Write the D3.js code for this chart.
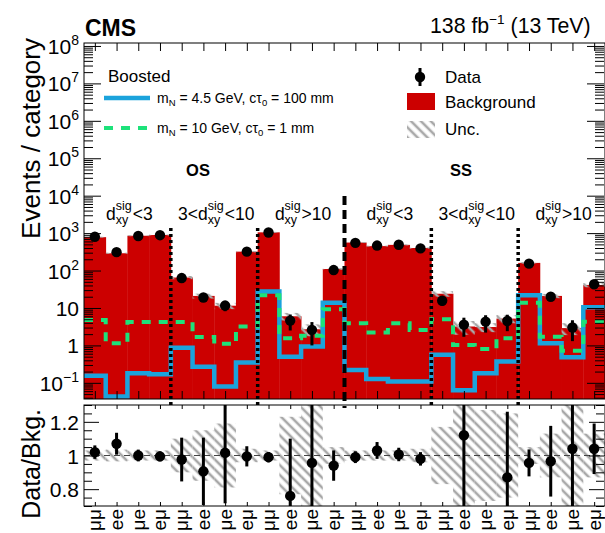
<!DOCTYPE html>
<html>
<head>
<meta charset="utf-8">
<script src="https://cdn.jsdelivr.net/npm/d3@7"></script>
<style>
  body { margin: 0; background: #fff; }
  svg { display: block; font-family: "Liberation Sans", Arial, sans-serif; }
</style>
</head>
<body>
<svg id="chart" width="605" height="533"></svg>
<script>
// channel label of each of the 24 categories
const binLabels = ["μμ","ee","μe","eμ","μμ","ee","μe","eμ","μμ","ee","μe","eμ",
                   "μμ","ee","μe","eμ","μμ","ee","μe","eμ","μμ","ee","μe","eμ"];
// predicted background per category
const background = [780, 290, 850, 890, 65, 21, 11.5, 320, 1050, 6, 2.7, 110,
                    560, 450, 485, 400, 24, 3.2, 3.1, 5.2, 160, 21, 2.9, 41];
// relative background uncertainty
const bkgUnc = [0.03, 0.035, 0.03, 0.03, 0.1, 0.15, 0.19, 0.04, 0.03, 0.23, 0.35, 0.05,
                0.03, 0.03, 0.03, 0.04, 0.17, 0.4, 0.27, 0.25, 0.05, 0.13, 0.35, 0.13];
// observed events
const observed = [800, 310, 840, 880, 63, 19, 11.6, 320, 1040, 4.6, 2.6, 103,
                  550, 465, 490, 390, 15.6, 3.6, 4.3, 4.5, 153, 20, 3.0, 43];
const observedErr = [28, 18, 29, 30, 8, 4.4, 3.4, 18, 32, 2.1, 1.6, 10,
                     23, 22, 22, 20, 4, 1.9, 2.1, 2.1, 12, 4.5, 1.7, 6.6];
// data / background (null = outside the ratio range)
const ratio = [1.02, 1.07, 1.0, 0.995, 0.976, 0.906, 1.016, 0.995, 0.99, 0.76, 0.956, 0.94,
               0.99, 1.03, 1.006, 0.98, null, 1.12, null, 0.87, 0.956, 0.966, 1.04, 1.04];
const ratioErr = [0.04, 0.065, 0.035, 0.03, 0.13, 0.2, 0.3, 0.06, 0.03, 0.34, 0.5, 0.09,
                  0.035, 0.05, 0.04, 0.04, null, 0.6, null, 0.39, 0.08, 0.21, 0.5, 0.15];
// signal m_N = 4.5 GeV, ctau = 100 mm
const signalA = [0.155, 0.043, 0.18, 0.17, 0.87, 0.27, 0.08, 0.35, 27.5, 0.5, 0.93, 13.8,
                 0.22, 0.126, 0.108, 0.108, 0.56, 0.063, 0.18, 0.37, 22, 1.15, 0.48, 10.5];
// signal m_N = 10 GeV, ctau = 1 mm
const signalB = [4.8, 1.15, 4.2, 4.2, 4.2, 1.67, 1.1, 3.2, 22, 1.55, 1.8, 9.3,
                 3.9, 2.2, 3.9, 2.6, 5, 1.03, 0.8, 1.55, 13.8, 1.7, 0.72, 4.3];
const logTicks = [0.1, 1, 10, 100, 1e3, 1e4, 1e5, 1e6, 1e7, 1e8];
const logTickLabels = [["10","−1"], ["1",""], ["10",""], ["10","2"], ["10","3"], ["10","4"],
                       ["10","5"], ["10","6"], ["10","7"], ["10","8"]];
const ratioTicks = [0.8, 1, 1.2];
const ratioTickLabels = ["0.8", "1", "1.2"];
const groupLabels = [["", "<3"], ["3<", "<10"], ["", ">10"], ["", "<3"], ["3<", "<10"], ["", ">10"]];

const X0 = 84, X1 = 605, MT = 43, MB = 399, RT = 405, RB = 506;
const RED = "#cc0000", BLUE = "#1ba3dc", GREEN = "#1de27a";

const svg = d3.select("#chart");
const x = d3.scaleLinear().domain([0, 24]).range([X0, X1]);
const y = d3.scaleLog().domain([0.037, 1.2e8]).range([MB, MT]);
const yr = d3.scaleLinear().domain([0.7, 1.3]).range([RB, RT]);
const bw = x(1) - x(0);

const defs = svg.append("defs");
defs.append("clipPath").attr("id", "clipMain").append("rect")
  .attr("x", X0).attr("y", MT).attr("width", X1 - X0).attr("height", MB - MT);
defs.append("clipPath").attr("id", "clipRatio").append("rect")
  .attr("x", X0).attr("y", RT).attr("width", X1 - X0).attr("height", RB - RT);
const pat = defs.append("pattern").attr("id", "hatch").attr("patternUnits", "userSpaceOnUse")
  .attr("width", 7).attr("height", 7).attr("patternTransform", "rotate(-45)");
pat.append("line").attr("x1", 2).attr("x2", 2).attr("y1", 0).attr("y2", 7)
  .attr("stroke", "#a8a8a8").attr("stroke-width", 2.6);

// ---------------- main panel ----------------
const gm = svg.append("g").attr("clip-path", "url(#clipMain)");
gm.selectAll("rect.bkg").data(background).join("rect")
  .attr("x", (d, i) => x(i)).attr("width", bw + 0.4)
  .attr("y", d => y(d)).attr("height", d => MB - y(d))
  .attr("fill", RED);
gm.selectAll("rect.unc").data(background).join("rect")
  .attr("x", (d, i) => x(i)).attr("width", bw)
  .attr("y", (d, i) => y(d * (1 + bkgUnc[i])))
  .attr("height", (d, i) => y(d * Math.max(1 - bkgUnc[i], 0.01)) - y(d * (1 + bkgUnc[i])))
  .attr("fill", "url(#hatch)");

const step = vals => d3.line().x(d => x(d[0])).y(d => y(d[1])).curve(d3.curveStepAfter)(
  vals.map((v, i) => [i, v]).concat([[24, vals[vals.length - 1]]]));
gm.append("path").attr("d", step(signalA)).attr("fill", "none")
  .attr("stroke", BLUE).attr("stroke-width", 4.5);
gm.append("path").attr("d", step(signalB)).attr("fill", "none")
  .attr("stroke", GREEN).attr("stroke-width", 4).attr("stroke-dasharray", "9,8");

// category separators
[4, 8, 16, 20].forEach(b => {
  svg.append("line").attr("x1", x(b)).attr("x2", x(b)).attr("y1", 228).attr("y2", 405)
    .attr("stroke", "#000").attr("stroke-width", 3.5).attr("stroke-dasharray", "3,3");
});
svg.append("line").attr("x1", x(12)).attr("x2", x(12)).attr("y1", 196).attr("y2", 408)
  .attr("stroke", "#000").attr("stroke-width", 4).attr("stroke-dasharray", "9,5");

// data points
const gd = svg.append("g").attr("clip-path", "url(#clipMain)");
observed.forEach((v, i) => {
  const cx = x(i + 0.5);
  gd.append("line").attr("x1", cx).attr("x2", cx)
    .attr("y1", y(v + observedErr[i])).attr("y2", y(Math.max(v - observedErr[i], 0.01)))
    .attr("stroke", "#000").attr("stroke-width", 3);
  gd.append("circle").attr("cx", cx).attr("cy", y(v)).attr("r", 5.2).attr("fill", "#000");
});

// axes of the main panel
function strip(g) { g.select(".domain").remove(); g.selectAll("line").attr("stroke", "#000"); }
const minorLog = [];
for (let e = -2; e < 8; e++) for (let m = 2; m <= 9; m++) {
  const v = m * 10 ** e;
  if (v > 0.037 && v < 1.2e8) minorLog.push(v);
}
svg.append("g").attr("transform", `translate(${X0},0)`)
  .call(d3.axisRight(y).tickValues(logTicks).tickSize(17).tickFormat("")).call(strip);
svg.append("g").attr("transform", `translate(${X0},0)`)
  .call(d3.axisRight(y).tickValues(minorLog).tickSize(9).tickFormat("")).call(strip);
svg.append("g").attr("transform", `translate(${X1 - 1},0)`)
  .call(d3.axisLeft(y).tickValues(logTicks).tickSize(17).tickFormat("")).call(strip);
svg.append("g").attr("transform", `translate(${X1 - 1},0)`)
  .call(d3.axisLeft(y).tickValues(minorLog).tickSize(9).tickFormat("")).call(strip);
const centers = d3.range(24).map(i => i + 0.5);
svg.append("g").attr("transform", `translate(0,${MT})`)
  .call(d3.axisBottom(x).tickValues(centers).tickSize(8).tickFormat("")).call(strip);
svg.append("g").attr("transform", `translate(0,${MB})`)
  .call(d3.axisTop(x).tickValues(centers).tickSize(8).tickFormat("")).call(strip);
svg.append("rect").attr("x", X0).attr("y", MT).attr("width", X1 - X0).attr("height", MB - MT)
  .attr("fill", "none").attr("stroke", "#000").attr("stroke-width", 1);

logTicks.forEach((v, i) => {
  const t = svg.append("text").attr("x", 79).attr("y", y(v) + 8)
    .attr("text-anchor", "end").attr("font-size", 21).text(logTickLabels[i][0]);
  if (logTickLabels[i][1]) t.append("tspan").attr("dy", -9).attr("font-size", 14).text(logTickLabels[i][1]);
});

svg.append("text").attr("transform", "translate(40,38) rotate(-90)")
  .attr("text-anchor", "end").attr("font-size", 26).text("Events / category");

// ---------------- ratio panel ----------------
const gr = svg.append("g").attr("clip-path", "url(#clipRatio)");
gr.selectAll("rect.unc").data(bkgUnc).join("rect")
  .attr("x", (d, i) => x(i)).attr("width", bw)
  .attr("y", d => yr(1 + d)).attr("height", d => yr(1 - d) - yr(1 + d))
  .attr("fill", "url(#hatch)");
gr.append("line").attr("x1", X0).attr("x2", X1).attr("y1", yr(1)).attr("y2", yr(1))
  .attr("stroke", "#444").attr("stroke-width", 1).attr("stroke-dasharray", "6,4");
ratio.forEach((v, i) => {
  if (v === null) return;
  const cx = x(i + 0.5);
  gr.append("line").attr("x1", cx).attr("x2", cx)
    .attr("y1", yr(v + ratioErr[i])).attr("y2", yr(v - ratioErr[i]))
    .attr("stroke", "#000").attr("stroke-width", 3);
  gr.append("circle").attr("cx", cx).attr("cy", yr(v)).attr("r", 5.2).attr("fill", "#000");
});

const minorRatio = d3.range(0.7, 1.3001, 0.05).filter(v => ratioTicks.every(t => Math.abs(t - v) > 1e-6));
svg.append("g").attr("transform", `translate(${X0},0)`)
  .call(d3.axisRight(yr).tickValues(ratioTicks).tickSize(15).tickFormat("")).call(strip);
svg.append("g").attr("transform", `translate(${X0},0)`)
  .call(d3.axisRight(yr).tickValues(minorRatio).tickSize(8).tickFormat("")).call(strip);
svg.append("g").attr("transform", `translate(${X1 - 1},0)`)
  .call(d3.axisLeft(yr).tickValues(ratioTicks).tickSize(15).tickFormat("")).call(strip);
svg.append("g").attr("transform", `translate(${X1 - 1},0)`)
  .call(d3.axisLeft(yr).tickValues(minorRatio).tickSize(8).tickFormat("")).call(strip);
svg.append("g").attr("transform", `translate(0,${RT})`)
  .call(d3.axisBottom(x).tickValues(centers).tickSize(4).tickFormat("")).call(strip);
svg.append("g").attr("transform", `translate(0,${RB})`)
  .call(d3.axisTop(x).tickValues(centers).tickSize(4).tickFormat("")).call(strip);
svg.append("rect").attr("x", X0).attr("y", RT).attr("width", X1 - X0).attr("height", RB - RT)
  .attr("fill", "none").attr("stroke", "#000").attr("stroke-width", 1);

ratioTicks.forEach((v, i) => {
  svg.append("text").attr("x", 79).attr("y", yr(v) + 8).attr("text-anchor", "end")
    .attr("font-size", 21).text(ratioTickLabels[i]);
});
svg.append("text").attr("transform", "translate(40,409) rotate(-90)")
  .attr("text-anchor", "end").attr("font-size", 25).text("Data/Bkg.");

binLabels.forEach((s, i) => {
  svg.append("text").attr("transform", `translate(${x(i + 0.5) + 6.5},509) rotate(-90)`)
    .attr("text-anchor", "end").attr("font-size", 19).text(s);
});

// ---------------- labels ----------------
svg.append("text").attr("x", 85).attr("y", 36).attr("font-size", 23).attr("font-weight", "bold").text("CMS");
const lumi = svg.append("text").attr("x", 430).attr("y", 33).attr("font-size", 21.3).text("138 fb");
lumi.append("tspan").attr("dy", -9).attr("font-size", 13.5).text("−1");
lumi.append("tspan").attr("dy", 9).text(" (13 TeV)");

svg.append("text").attr("x", 108).attr("y", 82).attr("font-size", 17).text("Boosted");
svg.append("line").attr("x1", 104).attr("x2", 150).attr("y1", 98).attr("y2", 98)
  .attr("stroke", BLUE).attr("stroke-width", 4.5);
svg.append("line").attr("x1", 104).attr("x2", 150).attr("y1", 128).attr("y2", 128)
  .attr("stroke", GREEN).attr("stroke-width", 4).attr("stroke-dasharray", "9,8");
function sigText(yy, mass, ct) {
  const t = svg.append("text").attr("x", 157).attr("y", yy).attr("font-size", 14).text("m");
  t.append("tspan").attr("dy", 3).attr("font-size", 9.5).text("N");
  t.append("tspan").attr("dy", -3).text(` = ${mass} GeV, cτ`);
  t.append("tspan").attr("dy", 3).attr("font-size", 9.5).text("0");
  t.append("tspan").attr("dy", -3).text(` = ${ct} mm`);
}
sigText(103, "4.5", "100");
sigText(133, "10", "1");

svg.append("line").attr("x1", 420).attr("x2", 420).attr("y1", 68).attr("y2", 86)
  .attr("stroke", "#000").attr("stroke-width", 3);
svg.append("circle").attr("cx", 420).attr("cy", 77).attr("r", 5.2).attr("fill", "#000");
svg.append("text").attr("x", 445).attr("y", 83).attr("font-size", 17).text("Data");
svg.append("rect").attr("x", 407).attr("y", 93).attr("width", 28).attr("height", 17).attr("fill", RED);
svg.append("text").attr("x", 445).attr("y", 108).attr("font-size", 17).text("Background");
svg.append("rect").attr("x", 407).attr("y", 121).attr("width", 28).attr("height", 17).attr("fill", "url(#hatch)");
svg.append("text").attr("x", 445).attr("y", 135).attr("font-size", 17).text("Unc.");

svg.append("text").attr("x", 198).attr("y", 176).attr("text-anchor", "middle")
  .attr("font-size", 16.5).attr("font-weight", "bold").text("OS");
svg.append("text").attr("x", 461).attr("y", 176).attr("text-anchor", "middle")
  .attr("font-size", 16.5).attr("font-weight", "bold").text("SS");

groupLabels.forEach((gl, k) => {
  const g = svg.append("g");
  let cur = 0;
  const piece = (str, size, dy) => {
    if (!str) return 0;
    const el = g.append("text").attr("x", cur).attr("y", 220 + dy).attr("font-size", size).text(str);
    return el.node().getComputedTextLength();
  };
  cur += piece(gl[0], 17.5, 0);
  cur += piece("d", 17.5, 0);
  const w1 = piece("xy", 12.5, 4);
  const w2 = piece("sig", 12.5, -10);
  cur += Math.max(w1, w2) + 1;
  cur += piece(gl[1], 17.5, 0);
  const cx = x(k * 4 + 2) + 2;
  g.attr("transform", `translate(${cx - cur / 2},0)`);
});
</script>
</body>
</html>
